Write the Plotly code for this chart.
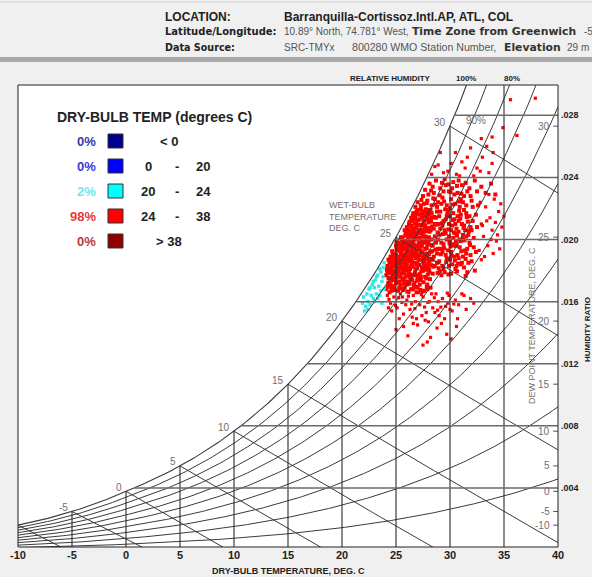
import math
import plotly.graph_objects as go

# ---------------------------------------------------------------------------
# Hourly weather points: (dry-bulb deg C, humidity ratio g/kg)
# ---------------------------------------------------------------------------
red_upper = [
    (35.6, 29.0), (37.9, 29.1), (32.9, 26.5), (33.9, 26.6), (31.9, 25.9), (34.0, 25.6),
    (30.5, 25.6), (33.0, 25.3), (28.9, 24.8), (33.9, 24.9), (32.5, 24.6), (36.2, 26.7),
    (34.9, 27.2), (29.1, 25.6), (33.4, 26.0), (31.6, 25.3), (29.4, 24.3), (28.6, 24.7),
    (28.3, 24.2), (29.8, 24.4), (30.6, 24.2), (31.4, 24.6), (32.2, 24.1), (33.6, 24.3),
    (30.1, 24.9), (31.1, 25.0), (30.9, 24.1), (32.8, 24.4),
]
red_band_top = [
    (26.8, 22.1), (27.0, 22.4), (27.3, 22.2), (27.5, 22.8), (27.7, 23.2), (27.9, 22.5),
    (28.1, 23.6), (28.3, 22.2), (28.5, 23.0), (28.7, 23.8), (28.9, 22.4), (29.1, 23.3),
    (29.3, 22.7), (29.5, 23.9), (29.7, 22.2), (29.9, 23.1), (30.1, 22.6), (30.3, 23.7),
    (30.5, 22.3), (30.7, 23.0), (30.9, 22.1), (31.1, 23.5), (31.3, 22.8), (31.5, 22.2),
    (31.8, 23.3), (32.0, 22.5), (32.3, 23.8), (32.6, 22.2), (32.9, 23.4), (33.3, 23.0),
    (33.8, 23.6), (34.2, 22.9), (28.0, 22.9), (28.4, 23.4), (28.8, 22.1), (29.2, 22.3),
    (29.6, 23.5), (30.0, 22.0), (30.4, 22.9), (30.8, 23.8), (31.2, 22.4), (31.6, 23.1),
    (32.1, 22.1), (32.5, 23.1), (27.6, 22.3), (28.6, 22.6), (29.4, 23.1), (30.2, 23.3),
    (31.0, 22.6), (31.9, 22.8),
    (27.85, 22.35), (28.25, 23.15), (28.65, 22.25), (29.05, 22.85), (29.45, 22.45),
    (29.85, 23.55), (30.25, 22.25), (30.65, 23.45), (31.05, 22.95), (31.45, 23.65),
    (28.45, 22.65), (29.25, 23.65), (30.05, 23.05), (30.85, 22.45), (27.35, 22.55),
]
red_core = [
    (24.1, 16.8), (24.3, 17.2), (24.6, 16.9), (24.9, 17.4), (25.2, 16.7), (25.4, 17.1),
    (25.8, 16.9), (26.1, 17.3), (26.4, 16.8), (26.7, 17.2), (27.0, 16.9), (27.3, 17.4),
    (27.6, 16.7), (27.9, 17.1), (28.2, 16.9), (24.4, 16.6), (25.6, 17.4), (26.9, 16.6),
    (27.8, 17.5), (24.8, 17.0),
    (24.1, 17.7), (24.2, 18.3), (24.5, 17.9), (24.7, 18.4), (24.9, 17.6), (25.1, 18.1),
    (25.3, 18.5), (25.5, 17.8), (25.7, 18.2), (25.9, 17.6), (26.0, 18.4), (26.2, 17.9),
    (26.4, 18.3), (26.6, 17.7), (26.8, 18.1), (27.0, 18.5), (27.2, 17.8), (27.4, 18.2),
    (27.7, 17.6), (27.9, 18.4), (28.1, 17.9), (24.3, 17.5), (24.6, 18.6), (25.0, 18.3),
    (25.4, 17.6), (25.8, 18.5), (26.3, 17.6), (26.9, 18.4), (27.5, 18.0), (28.0, 18.6),
    (24.8, 18.0), (25.6, 18.0),
    (24.3, 18.7), (24.5, 18.9), (24.7, 19.1), (24.9, 18.6), (25.1, 19.3), (25.2, 18.8),
    (25.4, 19.5), (25.6, 19.0), (25.8, 18.7), (26.0, 19.4), (26.1, 18.9), (26.3, 19.2),
    (26.5, 18.6), (26.7, 19.5), (26.9, 19.0), (27.1, 18.7), (27.3, 19.3), (27.5, 18.9),
    (27.7, 19.4), (27.9, 18.8), (28.2, 19.2), (24.6, 18.6), (25.0, 19.0), (25.5, 19.2),
    (25.9, 19.1), (26.2, 19.6), (26.6, 19.1), (27.0, 19.6), (27.4, 18.7), (27.8, 19.1),
    (28.1, 18.6), (25.3, 18.9), (26.4, 18.8),
    (25.0, 19.6), (25.2, 19.8), (25.4, 19.7), (25.6, 20.1), (25.7, 19.6), (25.9, 20.4),
    (26.0, 19.9), (26.2, 20.2), (26.4, 19.7), (26.5, 20.5), (26.7, 20.0), (26.9, 20.3),
    (27.1, 19.8), (27.3, 20.4), (27.5, 19.9), (27.7, 20.2), (27.9, 19.7), (28.1, 20.5),
    (28.3, 20.0), (25.8, 19.9), (26.3, 20.4), (26.8, 19.6), (27.2, 20.1), (27.6, 20.5),
    (28.0, 19.8), (25.5, 19.6), (26.1, 20.0), (26.6, 19.8), (27.4, 19.6), (27.0, 20.4),
    (25.8, 20.6), (26.0, 20.8), (26.2, 21.0), (26.3, 20.6), (26.5, 21.2), (26.7, 20.7),
    (26.9, 21.0), (27.1, 20.6), (27.2, 21.3), (27.4, 20.9), (27.6, 21.2), (27.8, 20.7),
    (28.0, 21.1), (28.2, 20.6), (26.4, 20.9), (26.8, 21.3), (27.3, 20.6), (27.7, 20.9),
    (28.1, 21.3), (26.1, 20.6), (26.6, 20.6), (27.0, 20.9), (27.5, 20.6), (27.9, 21.3),
    (26.4, 21.4), (26.6, 21.7), (26.8, 21.5), (27.0, 21.9), (27.2, 21.6), (27.4, 21.4),
    (27.5, 21.8), (27.7, 21.5), (27.9, 21.9), (28.1, 21.6), (28.3, 21.4), (26.9, 21.8),
    (27.3, 22.0), (27.8, 21.7), (28.2, 21.9),
    (24.4, 18.1), (24.6, 17.4), (24.8, 18.8), (25.0, 17.2), (25.1, 17.9), (25.3, 17.3),
    (25.5, 18.7), (25.7, 17.5), (25.9, 18.2), (26.1, 19.3), (26.2, 18.6), (26.4, 19.9),
    (26.5, 17.4), (26.7, 18.5), (26.9, 19.3), (25.2, 19.5), (25.6, 19.4), (26.0, 18.0),
    (26.3, 18.1), (26.6, 20.3), (26.8, 18.8), (27.1, 19.4), (27.3, 17.6), (27.6, 18.6),
    (24.5, 17.1), (24.7, 17.7), (24.9, 18.3), (25.4, 18.2), (25.8, 17.3), (26.1, 17.7),
    (26.5, 19.4), (27.0, 17.5), (27.2, 19.0), (27.5, 20.2), (27.8, 18.3), (25.0, 18.6),
    (25.7, 18.9), (26.2, 19.7), (26.8, 20.1), (27.4, 19.9), (24.2, 17.9), (24.4, 18.5),
    (25.1, 18.5), (25.9, 19.5), (26.4, 17.5), (26.9, 17.7), (27.6, 19.8), (28.0, 18.2),
    (24.6, 16.7), (25.3, 16.9), (26.0, 17.1), (26.6, 16.8), (27.2, 17.1), (27.9, 16.8),
]
red_core_dense = [
    (24.25, 16.95), (24.55, 17.35), (24.85, 16.75), (25.15, 17.25), (25.45, 16.85),
    (25.75, 17.15), (26.05, 16.65), (26.35, 17.45), (26.65, 17.05), (26.95, 17.35),
    (27.25, 16.75), (27.55, 17.25), (27.85, 16.95), (28.15, 17.45), (24.45, 17.55),
    (25.05, 17.55), (25.65, 16.75), (26.25, 17.15), (26.85, 16.95), (27.45, 16.65),
    (24.15, 18.05), (24.35, 17.85), (24.55, 18.25), (24.75, 17.65), (24.95, 18.45),
    (25.15, 17.75), (25.35, 18.15), (25.55, 18.45), (25.75, 17.85), (25.95, 18.35),
    (26.15, 18.15), (26.35, 17.75), (26.55, 18.25), (26.75, 17.85), (26.95, 18.15),
    (27.15, 18.35), (27.35, 17.95), (27.55, 18.45), (27.75, 18.05), (27.95, 17.75),
    (28.25, 18.35), (24.65, 18.05), (25.25, 17.95), (25.85, 18.05), (26.45, 18.55),
    (27.05, 17.65), (27.65, 18.25), (28.05, 18.05), (24.85, 17.85), (25.45, 18.35),
    (24.45, 18.75), (24.65, 19.25), (24.85, 19.05), (25.05, 19.35), (25.25, 18.65),
    (25.45, 19.05), (25.65, 19.35), (25.85, 18.85), (26.05, 19.15), (26.25, 18.75),
    (26.45, 19.45), (26.65, 18.95), (26.85, 19.25), (27.05, 18.85), (27.25, 19.55),
    (27.45, 19.15), (27.65, 18.75), (27.85, 19.45), (28.05, 19.05), (28.25, 18.75),
    (24.75, 18.85), (25.35, 19.25), (25.95, 18.65), (26.55, 19.25), (27.15, 19.05),
    (27.75, 18.95), (25.15, 18.75), (25.75, 19.45), (26.35, 18.95), (26.95, 19.55),
    (25.05, 19.85), (25.25, 19.65), (25.45, 20.15), (25.65, 19.75), (25.85, 20.25),
    (26.05, 20.45), (26.25, 19.85), (26.45, 20.25), (26.65, 19.65), (26.85, 20.45),
    (27.05, 20.05), (27.25, 19.75), (27.45, 20.35), (27.65, 19.95), (27.85, 20.55),
    (28.05, 20.15), (28.25, 19.65), (25.55, 19.95), (26.15, 20.35), (26.75, 20.15),
    (27.35, 20.55), (27.95, 19.95), (25.95, 19.75), (26.55, 20.05), (27.15, 20.45),
    (26.05, 20.75), (26.25, 21.15), (26.45, 20.85), (26.65, 21.35), (26.85, 20.75),
    (27.05, 21.25), (27.25, 20.95), (27.45, 21.65), (27.65, 20.85), (27.85, 21.45),
    (28.05, 20.75), (28.25, 21.15), (26.55, 21.55), (26.95, 21.65), (27.35, 21.85),
    (27.75, 21.95), (28.15, 21.75), (26.75, 21.05), (27.55, 21.05), (28.35, 20.85),
]
red_mid = [
    (28.4, 17.8), (28.6, 18.3), (28.8, 19.1), (29.0, 18.6), (29.2, 19.8), (29.4, 18.1),
    (29.6, 20.4), (29.8, 19.3), (30.0, 18.7), (30.2, 20.9), (30.4, 19.6), (30.6, 18.3),
    (30.8, 21.2), (31.0, 19.9), (31.2, 18.9), (31.4, 20.6), (31.6, 19.4), (31.8, 21.5),
    (32.0, 18.6), (32.2, 20.1), (32.4, 19.2), (28.5, 20.7), (28.7, 21.4), (28.9, 20.0),
    (29.1, 21.8), (29.3, 20.9), (29.5, 17.9), (29.7, 21.5), (29.9, 20.2), (30.1, 17.8),
    (30.3, 21.7), (30.5, 20.4), (30.7, 19.0), (30.9, 20.0), (31.1, 21.0), (31.3, 18.2),
    (31.5, 21.7), (31.7, 20.3), (31.9, 19.0), (32.1, 21.2), (32.3, 18.0), (32.5, 20.8),
    (28.4, 19.6), (28.6, 21.0), (28.8, 18.5), (29.0, 20.3), (29.2, 17.7), (29.4, 21.2),
    (29.6, 19.0), (29.8, 21.9), (30.0, 19.9), (30.2, 18.4), (30.4, 21.3), (30.6, 20.7),
    (30.8, 18.8), (31.0, 21.6), (31.2, 20.3), (31.4, 19.3), (31.6, 17.9), (31.8, 19.8),
    (32.0, 20.6), (32.2, 19.5), (32.4, 21.6), (28.5, 18.9), (28.7, 19.8), (28.9, 21.0),
    (29.1, 19.4), (29.3, 18.3), (29.5, 20.6), (29.7, 18.8), (29.9, 21.0), (30.1, 19.2),
    (30.3, 20.1), (30.5, 18.1), (30.7, 21.5), (30.9, 19.5), (31.1, 18.5), (31.3, 20.9),
    (31.5, 19.1), (31.7, 18.5), (28.3, 21.7), (28.9, 19.4), (29.4, 19.7), (29.9, 18.3),
    (30.4, 18.9), (30.8, 20.5), (31.3, 21.9), (31.9, 20.8), (28.6, 20.2), (29.1, 20.7),
    (29.6, 21.3), (30.1, 20.6), (30.6, 19.6), (28.8, 21.8), (29.3, 19.2), (30.0, 21.5),
    (30.5, 21.0), (31.0, 18.4), (31.5, 20.2), (28.4, 18.7), (29.0, 21.5), (29.7, 20.0),
    (30.2, 19.7),
    (28.45, 18.25), (28.65, 19.35), (28.85, 20.45), (29.05, 17.95), (29.25, 21.05),
    (29.45, 19.45), (29.65, 18.55), (29.85, 20.65), (30.05, 19.55), (30.25, 21.25),
    (30.45, 18.65), (30.65, 20.25), (30.85, 21.85), (31.05, 19.25), (31.25, 20.75),
    (31.45, 18.75), (31.65, 21.15), (31.85, 19.65), (28.55, 21.45), (28.95, 18.15),
    (29.35, 20.35), (29.75, 21.65), (30.15, 18.95), (30.55, 19.85), (30.95, 21.35),
    (31.35, 19.95), (31.75, 20.55), (28.75, 20.95), (29.15, 19.05), (29.55, 21.95),
    (29.95, 19.75), (30.35, 20.45), (30.75, 18.45), (31.15, 20.05), (31.55, 21.45),
    (28.35, 19.25), (28.85, 17.85), (29.85, 17.75), (30.65, 17.95), (31.45, 17.65),
]
red_right = [
    (32.7, 19.3), (32.9, 21.0), (33.1, 20.2), (33.3, 22.1), (33.5, 19.6), (33.7, 21.4),
    (33.9, 20.6), (34.1, 22.6), (34.3, 19.9), (34.5, 21.8), (34.8, 20.8), (32.8, 22.4),
    (33.2, 18.9), (33.6, 22.9), (34.0, 19.1), (34.4, 20.3), (33.0, 20.9), (33.4, 21.2),
    (34.2, 21.1), (34.7, 22.3), (35.0, 21.5), (32.9, 18.7), (33.8, 20.0), (34.6, 19.4),
]
red_lower = [
    (24.2, 16.4), (24.5, 15.9), (24.8, 16.3), (25.1, 15.6), (25.4, 16.5), (25.7, 15.2),
    (26.0, 16.1), (26.3, 15.5), (26.6, 16.4), (26.9, 14.9), (27.2, 15.8), (27.5, 16.3),
    (27.8, 15.3), (28.1, 16.0), (28.4, 15.6), (28.7, 16.5), (29.0, 15.1), (29.3, 16.2),
    (29.6, 15.7), (29.9, 16.4), (30.2, 15.4), (30.5, 16.1), (30.8, 15.8), (31.1, 16.5),
    (31.5, 15.5), (31.9, 16.2), (32.2, 15.9), (24.6, 15.4), (25.3, 14.9), (25.9, 15.8),
    (26.5, 15.0), (27.1, 16.6), (27.7, 14.8), (28.3, 16.5), (28.9, 16.0), (29.5, 14.9),
    (30.0, 15.5), (30.7, 14.9), (26.2, 16.6), (27.4, 15.1), (28.6, 15.3), (29.8, 15.9),
    (25.6, 16.3), (24.3, 15.6), (31.3, 16.4), (26.8, 16.0), (28.0, 14.7),
    (24.35, 16.15), (24.95, 15.75), (25.55, 15.95), (26.15, 16.35), (26.75, 15.55),
    (27.35, 16.45), (27.95, 15.95), (28.55, 16.25), (29.15, 15.65), (29.75, 16.55),
    (30.35, 15.85), (25.25, 16.25), (26.45, 15.85), (27.65, 15.65), (28.85, 15.45),
    (25.0, 14.2), (26.1, 13.8), (27.0, 14.5), (27.9, 13.4), (28.8, 14.3), (29.7, 13.9),
    (30.6, 14.4), (26.6, 14.6), (28.2, 13.7), (29.2, 14.6), (25.7, 14.4), (27.5, 13.2),
    (30.1, 13.6),
]
cyan_hours = [
    (21.9, 15.9), (22.0, 16.3), (22.2, 15.7), (22.3, 16.5), (22.4, 16.0), (22.5, 16.8),
    (22.6, 15.8), (22.7, 16.4), (22.8, 17.1), (22.9, 16.2), (23.0, 16.9), (23.1, 17.4),
    (23.2, 16.5), (23.3, 17.7), (23.4, 17.0), (23.5, 16.4), (23.6, 17.9), (23.7, 17.3),
    (23.8, 18.2), (23.9, 16.8), (23.5, 18.1), (23.2, 17.6), (22.9, 17.3), (22.6, 16.9),
    (23.8, 17.6), (23.6, 16.7), (22.4, 15.5), (23.0, 16.0), (23.9, 18.5), (23.3, 16.2),
    (22.1, 15.4), (23.7, 15.9),
]

# Chart scales and labels
x_ticks = [-10, -5, 0, 5, 10, 15, 20, 25, 30, 35, 40]
w_ticks = [0.004, 0.008, 0.012, 0.016, 0.020, 0.024, 0.028]
w_tick_text = [".004", ".008", ".012", ".016", ".020", ".024", ".028"]
db_grid = [-5, 0, 5, 10, 15, 20, 25, 30, 35]
wb_lines = [-10, -5, 0, 5, 10, 15, 20, 25, 30]
wb_labels = [-5, 0, 5, 10, 15, 20, 25, 30]
dp_labels = [30, 25, 20, 15, 10, 5, 0, -5, -10]
rh_levels = [10, 20, 30, 40, 50, 60, 70, 80, 90]

legend_pct = ["0%", "0%", "2%", "98%", "0%"]
legend_pct_colors = ["#3a3aa8", "#3a3ad8", "#6ee8ea", "#e8383a", "#b83a3a"]
legend_box_colors = ["#000090", "#0000ff", "#00ffff", "#ff0000", "#900000"]
legend_lo = ["< 0", "0", "20", "24", "> 38"]
legend_hi = [None, "20", "24", "38", None]

X_MIN, X_MAX = -10, 40
W_MIN, W_MAX = 0.0002, 0.02995
ELEV = 29.0
P_ATM = 101.325 * (1 - 2.25577e-5 * ELEV) ** 5.2559
FONT = "Liberation Sans, Arial, sans-serif"
WIDE = "DejaVu Sans, Verdana, sans-serif"
LINE = "#3a3a3a"


def pws(t):
    """Saturation vapour pressure, kPa (Hyland-Wexler)."""
    T = t + 273.15
    if t >= 0:
        ln = (-5.8002206e3 / T + 1.3914993 - 4.8640239e-2 * T + 4.1764768e-5 * T ** 2
              - 1.4452093e-8 * T ** 3 + 6.5459673 * math.log(T))
    else:
        ln = (-5.6745359e3 / T + 6.3925247 - 9.677843e-3 * T + 6.2215701e-7 * T ** 2
              + 2.0747825e-9 * T ** 3 - 9.484024e-13 * T ** 4 + 4.1635019 * math.log(T))
    return math.exp(ln) / 1000.0


def w_of_pv(pv):
    return 0.621945 * pv / (P_ATM - pv)


def w_sat(t):
    return w_of_pv(pws(t))


def t_sat(w):
    lo, hi = -30.0, 70.0
    for _ in range(60):
        mid = 0.5 * (lo + hi)
        if w_sat(mid) < w:
            lo = mid
        else:
            hi = mid
    return 0.5 * (lo + hi)


def w_wetbulb(t, twb):
    ws = w_sat(twb)
    if twb >= 0:
        return ((2501 - 2.326 * twb) * ws - 1.006 * (t - twb)) / (2501 + 1.86 * t - 4.186 * twb)
    return ((2830 - 0.24 * twb) * ws - 1.006 * (t - twb)) / (2830 + 1.86 * t - 2.1 * twb)


def frange(a, b, step):
    out, v = [], a
    while v <= b + 1e-9:
        out.append(round(v, 4))
        v += step
    return out


def px(x):
    return (x - 18) / 540.0


def py(y):
    return (547 - y) / 462.0


def note(x, y, text, size, color, family=FONT, xanchor="center", **kw):
    d = dict(x=px(x), y=py(y), xref="paper", yref="paper", text=text, showarrow=False,
             xanchor=xanchor, yanchor="middle",
             font=dict(family=family, size=size, color=color))
    d.update(kw)
    return d


fig = go.Figure()

# --- weather hours ---------------------------------------------------------
red_dense = red_band_top + red_core + red_core_dense + red_mid
red_sparse = red_upper + red_right + red_lower
for pts, size in [(red_sparse, 3.2), (red_dense, 4.0)]:
    fig.add_trace(go.Scatter(
        x=[p[0] for p in pts], y=[p[1] / 1000 for p in pts], mode="markers",
        marker=dict(symbol="square", size=size, color="#ff0000", line=dict(width=0)),
        hoverinfo="skip"))
fig.add_trace(go.Scatter(
    x=[p[0] for p in cyan_hours], y=[p[1] / 1000 for p in cyan_hours], mode="markers",
    marker=dict(symbol="square", size=3.4, color="#33e6e6", line=dict(width=0)),
    hoverinfo="skip"))

# --- psychrometric grid ----------------------------------------------------
temps = frange(X_MIN, X_MAX, 0.25)

# relative humidity curves
xs, ys = [], []
for rh in rh_levels:
    for t in temps:
        xs.append(t)
        ys.append(w_of_pv(rh / 100.0 * pws(t)))
    xs.append(None)
    ys.append(None)
fig.add_trace(go.Scatter(x=xs, y=ys, mode="lines", line=dict(color=LINE, width=1),
                         hoverinfo="skip"))

# saturation curve
fig.add_trace(go.Scatter(x=temps, y=[w_sat(t) for t in temps], mode="lines",
                         line=dict(color=LINE, width=1.1), hoverinfo="skip"))

# wet-bulb lines
xs, ys = [], []
for twb in wb_lines:
    for t in frange(twb, X_MAX, 0.5):
        xs.append(t)
        ys.append(w_wetbulb(t, twb))
    xs.append(None)
    ys.append(None)
fig.add_trace(go.Scatter(x=xs, y=ys, mode="lines", line=dict(color=LINE, width=1),
                         hoverinfo="skip"))

# dry-bulb verticals
xs, ys = [], []
for t in db_grid:
    xs += [t, t, None]
    ys += [0, min(w_sat(t), W_MAX), None]
fig.add_trace(go.Scatter(x=xs, y=ys, mode="lines", line=dict(color="#2a2a2a", width=1.1),
                         hoverinfo="skip"))

# humidity-ratio horizontals
xs, ys = [], []
for w in w_ticks:
    xs += [t_sat(w), X_MAX, None]
    ys += [w, w, None]
fig.add_trace(go.Scatter(x=xs, y=ys, mode="lines", line=dict(color="#6a6a6a", width=1.5),
                         hoverinfo="skip"))

# dew-point ticks on the right edge
xs, ys = [], []
for td in dp_labels:
    w = w_sat(td)
    xs += [X_MAX - 0.45, X_MAX, None]
    ys += [w, w, None]
fig.add_trace(go.Scatter(x=xs, y=ys, mode="lines", line=dict(color="#555555", width=1),
                         hoverinfo="skip"))

ann = []
grey = "#707070"

# wet-bulb labels at the saturation curve
for twb in wb_labels:
    ann.append(dict(x=twb, y=w_sat(twb), xref="x", yref="y", text=str(twb), showarrow=False,
                    xanchor="right", yanchor="middle", xshift=-2, yshift=4,
                    font=dict(family=FONT, size=10, color=grey)))

# dew-point labels
for td in dp_labels:
    ann.append(dict(x=X_MAX, y=w_sat(td), xref="x", yref="y", text=str(td), showarrow=False,
                    xanchor="right", yanchor="middle", xshift=-6,
                    font=dict(family=FONT, size=10, color=grey)))

# humidity-ratio scale
for w, lab in zip(w_ticks, w_tick_text):
    ann.append(dict(x=1, y=w, xref="paper", yref="y", text="<b>" + lab + "</b>",
                    showarrow=False, xanchor="left", yanchor="middle", xshift=1,
                    font=dict(family=FONT, size=9, color="#222")))

ann.append(note(587, 330, "<b>HUMIDITY RATIO</b>", 8, "#222", textangle=-90))
ann.append(note(532, 326, "DEW POINT TEMPERATURE, DEG. C", 9, grey, textangle=-90))
ann.append(note(327, 216, "WET-BULB<br>TEMPERATURE<br>DEG. C", 9, grey,
                xanchor="left", align="left"))
ann.append(note(476, 120, "90%", 10, grey))

# relative humidity heading above the plot
ann.append(note(390, 78, "<b>RELATIVE HUMIDITY</b>", 8, "#222"))
ann.append(note(466, 78, "<b>100%</b>", 8, "#222"))
ann.append(note(512, 78, "<b>80%</b>", 8, "#222"))

# x-axis title
ann.append(note(288, 571, "<b>DRY-BULB TEMPERATURE, DEG. C</b>", 9, "#222"))

# header block
hdr_dark = "#222"
hdr_val = "#555"
ann += [
    note(163, 17, "<b>LOCATION:</b>", 12, hdr_dark, xanchor="left"),
    note(282, 17, "<b>Barranquilla-Cortissoz.Intl.AP, ATL, COL</b>", 12, hdr_dark, xanchor="left"),
    note(163, 32, "<b>Latitude/Longitude:</b>", 10, hdr_dark, family=WIDE, xanchor="left"),
    note(282, 32, "10.89° North, 74.781° West,", 10, hdr_val, xanchor="left"),
    note(410, 32, "<b>Time Zone from Greenwich</b>", 10.8, "#333", family=WIDE, xanchor="left"),
    note(582, 32, "-5", 10, hdr_val, xanchor="left"),
    note(163, 47, "<b>Data Source:</b>", 9.6, hdr_dark, family=WIDE, xanchor="left"),
    note(282, 47, "SRC-TMYx", 10, hdr_val, xanchor="left"),
    note(350, 47, "800280 WMO Station Number,", 10.6, hdr_val, xanchor="left"),
    note(502, 47, "<b>Elevation</b>", 10.8, "#333", family=WIDE, xanchor="left"),
    note(565, 47, "29 m", 10, hdr_val, xanchor="left"),
]

# dry-bulb colour key
ann.append(note(55, 117, "<b>DRY-BULB TEMP (degrees C)</b>", 14, "#222", xanchor="left"))
shapes = []
row_y = [141, 166, 191, 216, 241]
for i, yc in enumerate(row_y):
    ann.append(note(98, yc, "<b>" + legend_pct[i] + "</b>", 13, legend_pct_colors[i],
                    xanchor="right"))
    shapes.append(dict(type="rect", xref="paper", yref="paper",
                       x0=px(108), x1=px(123), y0=py(yc + 7), y1=py(yc - 7),
                       fillcolor=legend_box_colors[i], line=dict(color="#333", width=1)))
    if legend_hi[i] is None:
        ann.append(note(169, yc, "<b>" + legend_lo[i] + "</b>", 13, "#222"))
    else:
        for txt, xc in [(legend_lo[i], 148), ("-", 177), (legend_hi[i], 203)]:
            ann.append(note(xc, yc, "<b>" + txt + "</b>", 13, "#222"))

# header panel rules and plot frame
shapes += [
    dict(type="rect", xref="paper", yref="paper", x0=px(0), x1=px(592), y0=py(62), y1=py(57),
         fillcolor="#a9a9a9", line=dict(width=0)),
    dict(type="line", xref="paper", yref="paper", x0=px(0), x1=px(592), y0=py(2), y1=py(2),
         line=dict(color="#cfcfcf", width=1)),
    dict(type="rect", xref="paper", yref="paper", x0=0, x1=1, y0=0, y1=1,
         line=dict(color="#222", width=1)),
]

fig.update_layout(
    width=592, height=577,
    margin=dict(l=18, r=34, t=85, b=30),
    paper_bgcolor="#f0f0f0", plot_bgcolor="#ffffff",
    showlegend=False,
    xaxis=dict(range=[X_MIN, X_MAX], tickvals=x_ticks,
               ticktext=["<b>%d</b>" % v for v in x_ticks],
               showgrid=False, zeroline=False, showline=False, ticks="",
               automargin=False,
               tickfont=dict(family=FONT, size=11, color="#222"), fixedrange=True),
    yaxis=dict(range=[W_MIN, W_MAX], visible=False, automargin=False, fixedrange=True),
    annotations=ann,
    shapes=shapes,
)

fig.write_html("out.html", include_plotlyjs=True, config={"displayModeBar": False})
